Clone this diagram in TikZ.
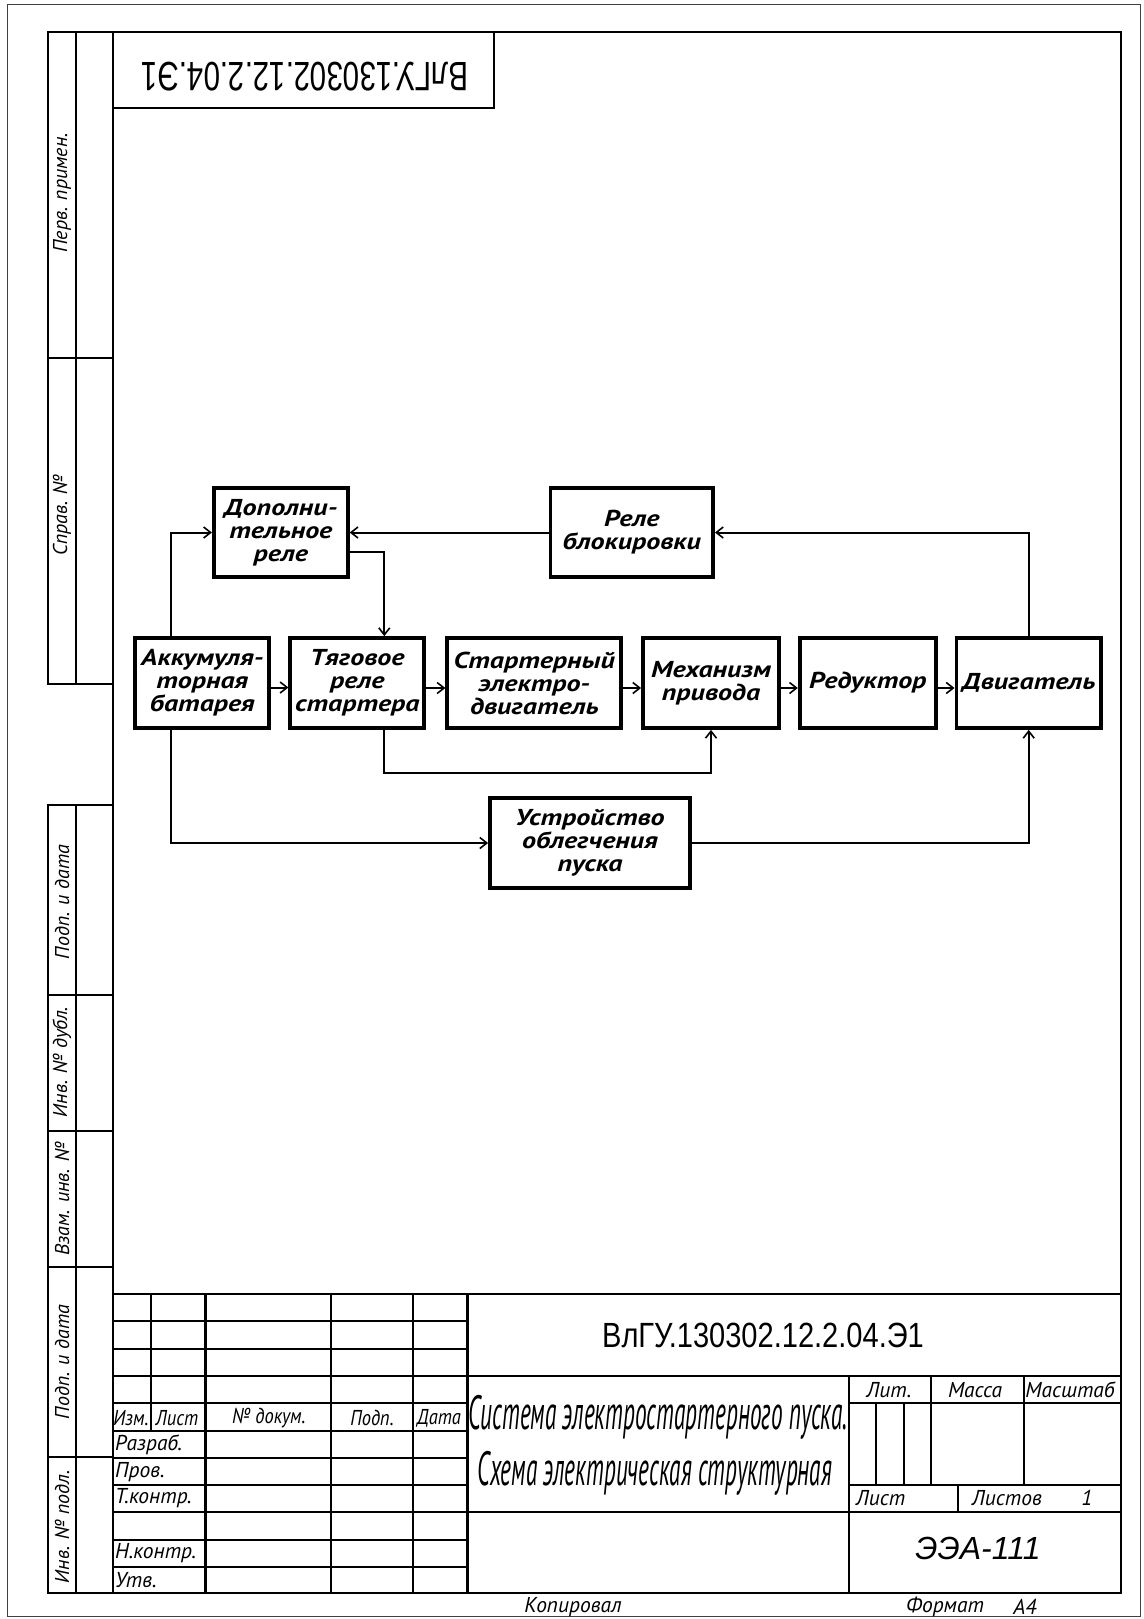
\documentclass[tikz,border=0pt]{standalone}
\usepackage{fontspec}
\setmainfont{PT Sans}
\newfontfamily\bx[FakeStretch=1.22]{PT Sans}
\newfontfamily\gA[FakeStretch=0.485]{PT Sans}
\newfontfamily\gB[FakeStretch=1.0]{PT Sans}
\newfontfamily\gN[FakeStretch=0.86]{PT Sans}
\newfontfamily\des[FakeStretch=0.83]{Liberation Sans}
\newfontfamily\desT[FakeStretch=0.72]{Liberation Sans}
\newfontfamily\desE[FakeStretch=1.0]{Liberation Sans}
\usetikzlibrary{arrows.meta}
\begin{document}
\begin{tikzpicture}[x=1pt,y=-1pt,
  frm/.style={line width=2.8pt},
  thk/.style={line width=2.8pt},
  thn/.style={line width=1.1pt},
  boxn/.style={draw, line width=3.8pt, align=center, inner sep=0pt,
    font=\bx\bfseries\itshape\fontsize{23}{23}\selectfont},
  conn/.style={line width=2pt, -{Straight Barb[length=7pt,width=11pt,line width=1.6pt]}},
  lbl/.style={inner sep=0pt, font=\gB\itshape\fontsize{21.5}{23}\selectfont},
  hdr/.style={inner sep=0pt, font=\gN\itshape\fontsize{21.5}{23}\selectfont},
  lblw/.style={lbl, anchor=west},
  side/.style={inner sep=0pt, rotate=90, font=\gB\itshape\fontsize{20}{22}\selectfont},
]
\useasboundingbox (0,0) rectangle (1143,1619);
\fill[white] (0,0) rectangle (1143,1619);
% sheet edge
\draw[line width=1pt, black!75] (7,5) rectangle (1140,1616);
% inner frame
\draw[frm] (113,32) rectangle (1121,1593);
% left strips
\draw[frm] (48,32) rectangle (113,684);
\draw[frm] (76,32) -- (76,684);
\draw[frm] (48,358) -- (113,358);
\draw[frm] (48,805) rectangle (113,1593);
\draw[frm] (76,805) -- (76,1593);
\foreach \yy in {995,1131,1267,1457} \draw[frm] (48,\yy) -- (113,\yy);
\node[side] (s1) at (62,193) {Перв. примен.};
\node[side] (s2) at (62,515) {Справ. №};
\node[side] (s3) at (62,902) {Подп. и дата};
\node[side] (s4) at (62,1062) {Инв. № дубл.};
\node[side] (s5) at (62,1199) {Взам. инв. №};
\node[side] (s6) at (62,1362) {Подп. и дата};
\node[side] (s7) at (62,1527) {Инв. № подл.};
% top stamp
\draw[frm] (113,32) rectangle (494,108);
\node[rotate=180, inner sep=0pt, font=\desT\fontsize{41}{43}\selectfont] (stamp) at (305,77) {ВлГУ.130302.12.2.04.Э1};

% ---------- title block ----------
\draw[thk] (113,1294) -- (1121,1294);
\draw[thk] (151,1294) -- (151,1431);
\foreach \xx in {205.5,331,413,467.5} \draw[thk] (\xx,1294) -- (\xx,1593);
\foreach \yy in {1321,1349,1376,1458,1485,1512,1540,1567} \draw[thn] (113,\yy) -- (467.5,\yy);
\draw[thk] (113,1403) -- (467.5,1403);
\draw[thk] (113,1431) -- (467.5,1431);
\draw[thk] (467.5,1376) -- (1121,1376);
\draw[thk] (467.5,1512) -- (1121,1512);
\draw[thk] (849,1376) -- (849,1593);
\draw[thk] (849,1403) -- (1121,1403);
\draw[thk] (849,1485) -- (1121,1485);
\draw[thk] (931,1376) -- (931,1485);
\draw[thk] (1024,1376) -- (1024,1485);
\draw[thn] (876,1403) -- (876,1485);
\draw[thn] (904,1403) -- (904,1485);
\draw[thk] (958,1485) -- (958,1512);

\node[inner sep=0pt, font=\des\fontsize{35}{37}\selectfont] (des) at (763,1335) {ВлГУ.130302.12.2.04.Э1};
\node[inner sep=0pt, font=\gA\itshape\fontsize{48}{50}\selectfont] (name1) at (658,1417) {Система электростартерного пуска.};
\node[inner sep=0pt, font=\gA\itshape\fontsize{48}{50}\selectfont] (name2) at (655,1473) {Схема электрическая структурная};
\node[lbl] (lit) at (889,1390) {Лит.};
\node[lbl] (massa) at (975,1390) {Масса};
\node[lbl] (masht) at (1070,1390) {Масштаб};
\node[lblw] (list) at (856,1498) {Лист};
\node[lbl] (listov) at (1007,1498) {Листов};
\node[lbl] (one) at (1087,1498) {1};
\node[inner sep=0pt, font=\desE\itshape\fontsize{32}{34}\selectfont] (code) at (978,1548) {ЭЭА-111};

\node[hdr] (izm) at (131,1418) {Изм.};
\node[hdr] (lst) at (177,1418) {Лист};
\node[hdr] (ndok) at (269,1418) {№ докум.};
\node[hdr] (podp) at (372,1418) {Подп.};
\node[hdr] (data) at (439,1418) {Дата};
\node[lblw] (razr) at (115,1445) {Разраб.};
\node[lblw] (prov) at (115,1472) {Пров.};
\node[lblw] (tkon) at (115,1498) {Т.контр.};
\node[lblw] (nkon) at (115,1553) {Н.контр.};
\node[lblw] (utv) at (115,1580) {Утв.};
\node[lbl] (kop) at (573,1607) {Копировал};
\node[lbl] (fmt) at (945,1607) {Формат};
\node[lbl] (a4) at (1025,1607) {А4};

% ---------- diagram ----------
\node[boxn, minimum width=134pt, minimum height=90pt] (bat) at (202.3,683) {Аккумуля-\\торная\\батарея};
\node[boxn, minimum width=134pt, minimum height=90pt] (tyag) at (357.3,683) {Тяговое\\реле\\стартера};
\node[boxn, minimum width=174pt, minimum height=90pt] (start) at (534.3,683) {Стартерный\\электро-\\двигатель};
\node[boxn, minimum width=136pt, minimum height=90pt] (mech) at (711,683) {Механизм\\привода};
\node[boxn, minimum width=136pt, minimum height=90pt] (red) at (867.7,683) {Редуктор};
\node[boxn, minimum width=144.6pt, minimum height=90pt] (dvig) at (1028.7,683) {Двигатель};
\node[boxn, minimum width=134pt, minimum height=89pt] (dop) at (280.8,532.5) {Дополни-\\тельное\\реле};
\node[boxn, minimum width=162.5pt, minimum height=89pt] (blok) at (631.8,532.5) {Реле\\блокировки};
\node[boxn, minimum width=200pt, minimum height=90pt] (ustr) at (590,843) {Устройство\\облегчения\\пуска};

\draw[conn] ([xshift=37.5pt]bat.north west) |- (dop.west);
\draw[conn] (blok.west) -- (dop.east);
\draw[conn] ([yshift=-19pt]dop.east) -| ([xshift=27pt]tyag.north);
\draw[conn] ([yshift=-4.5pt]bat.east) -- ([yshift=-4.5pt]tyag.west);
\draw[conn] ([yshift=-5pt]tyag.east) -- ([yshift=-5pt]start.west);
\draw[conn] ([yshift=-5pt]start.east) -- ([yshift=-5pt]mech.west);
\draw[conn] ([yshift=-5pt]mech.east) -- ([yshift=-5pt]red.west);
\draw[conn] ([yshift=-5pt]red.east) -- ([yshift=-5pt]dvig.west);
\draw[conn] (dvig.north) |- (blok.east);
\draw[conn] ([xshift=27pt]tyag.south) -- ++(0,43) -| (mech.south);
\draw[conn] ([xshift=37.5pt]bat.south west) |- (ustr.west);
\draw[conn] (ustr.east) -| (dvig.south);
\end{tikzpicture}
\end{document}
